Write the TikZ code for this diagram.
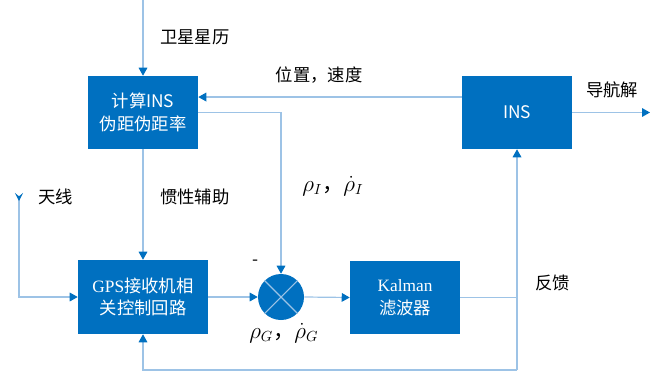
\documentclass[tikz,border=0pt]{standalone}
\usepackage{fontspec}
\setmainfont{Noto Sans CJK SC}
\newfontfamily\serifl{Liberation Serif}
\usetikzlibrary{arrows.meta}

\definecolor{boxblue}{HTML}{0070C0}
\definecolor{lineblue}{HTML}{9DC3E6}

\tikzset{
  blk/.style={draw=none, fill=boxblue, text=white, align=center,
    minimum width=82.5pt, minimum height=54.75pt, inner sep=0pt,
    font=\fontsize{13pt}{17pt}\selectfont},
  sig/.style={draw=lineblue, line width=0.9pt},
  arr/.style={sig, -{Triangle[length=6pt, width=6.5pt, color=boxblue]}},
  lbl/.style={font=\fontsize{13pt}{15pt}\selectfont, inner sep=0pt},
  mlbl/.style={font=\fontsize{16pt}{18pt}\selectfont, inner sep=0pt}
}

\begin{document}
\begin{tikzpicture}[x=0.75pt, y=-0.75pt]
  \useasboundingbox (0,0) rectangle (657,371);

  % Blocks
  \node[blk] (calc) at (143,112.5) {计算INS\\伪距伪距率};
  \node[blk] (ins) at (517,112.5) {INS};
  \node[blk, minimum width=97.5pt, minimum height=55.5pt] (gps) at (143,297)
    {{\serifl GPS}接收机相\\关控制回路};
  \node[blk] (kal) at (405,297.5) {{\serifl Kalman}\\滤波器};
  \node[circle, fill=boxblue, minimum size=34.5pt, inner sep=0pt] (sum) at (281,297) {};
  \draw[lineblue, line width=0.8pt] (sum.north east) -- (sum.south west);
  \draw[lineblue, line width=0.8pt] (sum.north west) -- (sum.south east);

  \coordinate (eph) at (143,0);
  \coordinate (ant) at (19,193);
  \coordinate (fb) at (517,297);
  \coordinate (out) at (650,112.5);
  \coordinate (bot) at (517,370);

  % Connectors
  \draw[arr] (eph) -- (calc.north);
  \draw[arr] ([yshift=11.6pt]ins.west) -- ([yshift=11.6pt]calc.east);
  \draw[arr] (calc.east) -| (sum.north);
  \draw[arr] (ins.east) -- (out);
  \draw[arr] (calc.south) -- (gps.north);
  \draw[arr, {Stealth[reversed, length=6pt, width=6pt, inset=2.5pt, color=boxblue]}-{Triangle[length=6pt, width=6.5pt, color=boxblue]}]
    (ant) |- (gps.west);
  \draw[arr] (gps.east) -- (sum.west);
  \draw[arr] (sum.east) -- (kal.west);
  \draw[arr] (kal.east) -| (ins.south);
  \draw[sig] (fb) -- (bot);
  \draw[arr] (bot) -| (gps.south);

  % Labels
  \node[lbl, anchor=west] (l-eph) at (160,37) {卫星星历};
  \node[lbl] (l-pv) at (319,75) {位置，速度};
  \node[lbl, anchor=west] (l-nav) at (586,90) {导航解};
  \node[lbl, anchor=west] (l-aid) at (160,197) {惯性辅助};
  \node[lbl, anchor=west] (l-ant) at (38,197) {天线};
  \node[lbl, anchor=west] (l-fb) at (535,283) {反馈};
  \node[lbl] (l-minus) at (256,263) {-};
  \node[mlbl, anchor=west] (l-rhoi) at (302,186) {$\rho_I$，$\dot{\rho}_I$};
  \node[mlbl, anchor=west] (l-rhog) at (249,333) {$\rho_G$，$\dot{\rho}_G$};
\end{tikzpicture}
\end{document}
